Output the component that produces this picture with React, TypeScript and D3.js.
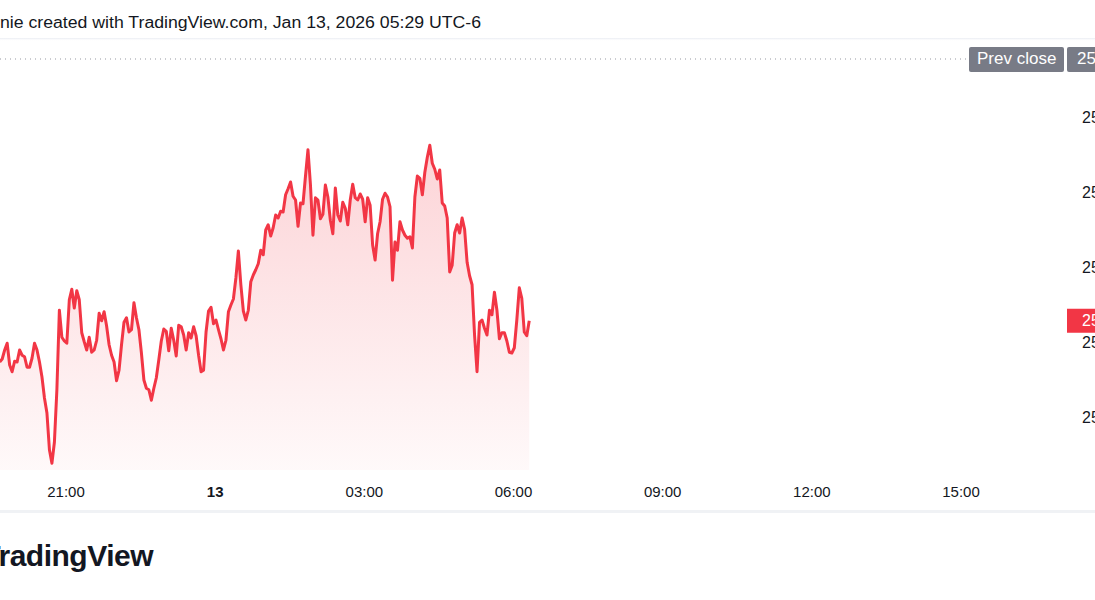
import React from "react";
import * as d3 from "d3";

const W = 1095;
const H = 600;

const headerText = "nie created with TradingView.com, Jan 13, 2026 05:29 UTC-6";
const logoText = "TradingView";

// 3-minute closes starting 2026-01-12 19:40 (chart time)
const sessionStart = "2026-01-12T19:40:00Z";
const barMinutes = 3;

const pricesEvening = [
  25719, 25720, 25723, 25725.25, 25718, 25715.75, 25719.25, 25719, 25723, 25721.25,
  25720.75, 25717.25, 25717.25, 25720.25, 25725.25, 25723, 25719, 25714, 25707, 25702,
  25689.75, 25685.25, 25692.25, 25709.75, 25736.25, 25727.25, 25726, 25725.25, 25739.75, 25743.25,
  25737, 25742.75, 25739.75, 25728.75, 25725.75, 25723, 25727.25,
  25722.25, 25723, 25726.25, 25735.25, 25732.75, 25735.75, 25731, 25724.75, 25721.25, 25719,
  25712.75, 25716.25, 25724.75, 25732.25, 25733.75, 25729, 25729.75, 25738.75, 25733.75, 25729.75,
  25722, 25713, 25710.25, 25709.75, 25706.25, 25710.25, 25713.75, 25719.75, 25726, 25730,
  25729.25, 25722.75, 25730.25, 25726.25, 25721, 25731.25,
];

const pricesOvernight = [
  25730.75, 25728, 25723, 25728.75, 25727, 25730.75, 25727.75, 25721.25, 25715.75, 25716.25,
  25729, 25736, 25737.25, 25731.75, 25733, 25729.75, 25726.75, 25723, 25726.25, 25735.75,
  25738, 25740, 25747, 25756, 25744.75, 25736, 25733, 25736.25, 25745.75, 25748,
  25749.75, 25751.75, 25756.25, 25754.75, 25763, 25764.75,
  25761, 25763.75, 25768, 25767, 25769.25, 25769, 25774.75, 25776.75, 25779, 25774.25,
  25773, 25764.25, 25772, 25771.75, 25781, 25789.75, 25778, 25761.25, 25773.75, 25773,
  25766.75, 25768.25, 25778, 25774, 25766.25, 25761.75, 25777, 25768, 25766, 25772.25,
  25770.25, 25764.75, 25773, 25778.25, 25773.75, 25773,
];

const pricesMorning = [
  25775, 25773.25, 25765.75, 25773.75, 25771.25, 25758, 25753, 25761.75, 25765.75, 25773.25,
  25775.25, 25774, 25770.75, 25746.25, 25759, 25756.25, 25765.75, 25763, 25761.25, 25760.25,
  25760.75, 25757, 25774, 25781, 25780.25, 25774.75, 25782.25, 25787.25, 25791.25, 25785.25,
  25783.25, 25780, 25783, 25772, 25771, 25767,
  25749, 25751.25, 25762, 25764.75, 25762, 25767, 25763.25, 25752.25, 25747.75, 25744.75,
  25728, 25715.75, 25732.25, 25733, 25730.25, 25728, 25736.25, 25734.75, 25742.25, 25736.25,
  25726.75, 25728.75, 25728.75, 25726, 25722.25, 25722, 25723.75, 25733, 25743.75, 25740.25,
  25729, 25727.75, 25732.75,
];

const prevClose = 25820;
const priceTicks = [25800, 25775, 25750, 25725, 25700];
const timeTicks = [
  "2026-01-12T21:00:00Z",
  "2026-01-13T00:00:00Z",
  "2026-01-13T03:00:00Z",
  "2026-01-13T06:00:00Z",
  "2026-01-13T09:00:00Z",
  "2026-01-13T12:00:00Z",
  "2026-01-13T15:00:00Z",
];
const timeTickLabels = ["21:00", "13", "03:00", "06:00", "09:00", "12:00", "15:00"];
const boldTickLabels = ["13"];

const LINE = "#f23645";
const TEXT = "#131722";
const GRAY_LABEL = "#787b86";
const FONT = "'Liberation Sans', Arial, sans-serif";

export default function App() {
  const prices = [...pricesEvening, ...pricesOvernight, ...pricesMorning];
  const start = new Date(sessionStart).getTime();
  const data = prices.map((p, i) => ({ t: new Date(start + i * barMinutes * 60000), p }));

  const x = d3
    .scaleUtc()
    .domain([new Date(timeTicks[0]), new Date(timeTicks[timeTicks.length - 1])])
    .range([66, 961]);
  const y = d3.scaleLinear().domain([25700, 25800]).range([419, 119]);

  const plotBottom = 470;
  const line = d3
    .line<{ t: Date; p: number }>()
    .x((d) => x(d.t))
    .y((d) => y(d.p));
  const area = d3
    .area<{ t: Date; p: number }>()
    .x((d) => x(d.t))
    .y0(plotBottom)
    .y1((d) => y(d.p));

  const last = data[data.length - 1];
  const lastY = y(last.p);
  const prevY = y(prevClose);

  return (
    <div style={{ position: "fixed", left: 0, top: 0, width: W, height: H, overflow: "hidden", background: "#fff" }}>
      <svg width={W} height={H} style={{ display: "block" }} fontFamily={FONT}>
        <defs>
          <linearGradient id="fillGrad" gradientUnits="userSpaceOnUse" x1="0" y1="140" x2="0" y2={plotBottom}>
            <stop offset="0" stopColor={LINE} stopOpacity={0.22} />
            <stop offset="1" stopColor={LINE} stopOpacity={0.03} />
          </linearGradient>
          <linearGradient id="hdrShadow" x1="0" y1="0" x2="0" y2="1">
            <stop offset="0" stopColor="#e9ecf2" stopOpacity={1} />
            <stop offset="1" stopColor="#ffffff" stopOpacity={0} />
          </linearGradient>
        </defs>
        <rect x={0} y={0} width={W} height={H} fill="#ffffff" />

        {/* header */}
        <text x={0} y={28} fontSize={16} fill={TEXT} textLength={481} lengthAdjust="spacingAndGlyphs">
          {headerText}
        </text>
        <rect x={0} y={38} width={W} height={3} fill="url(#hdrShadow)" />

        {/* area + line */}
        <path d={area(data) || ""} fill="url(#fillGrad)" />
        <path d={line(data) || ""} fill="none" stroke={LINE} strokeWidth={3} strokeLinejoin="round" />

        {/* prev close dotted line */}
        <line x1={0} x2={968} y1={prevY} y2={prevY} stroke="#9598a1" strokeWidth={1} strokeDasharray="1 4" />

        {/* price axis labels */}
        {priceTicks.map((v) => (
          <text key={v} x={1082} y={y(v)} fontSize={16} fill={TEXT} dominantBaseline="middle">
            {v.toFixed(2)}
          </text>
        ))}

        {/* prev close label */}
        <rect x={969} y={prevY - 12} width={95} height={25} rx={2} fill={GRAY_LABEL} />
        <text x={977} y={prevY + 1} fontSize={17} fill="#fff" dominantBaseline="middle">
          Prev close
        </text>
        <rect x={1067} y={prevY - 12} width={40} height={25} rx={2} fill={GRAY_LABEL} />
        <text x={1077} y={prevY + 1} fontSize={17} fill="#fff" dominantBaseline="middle">
          {prevClose.toFixed(2)}
        </text>

        {/* last price label */}
        <rect x={1067} y={lastY - 12} width={40} height={24} fill={LINE} />
        <text x={1082} y={lastY + 1} fontSize={16} fill="#fff" dominantBaseline="middle">
          {last.p.toFixed(2)}
        </text>

        {/* time axis */}
        {timeTicks.map((t, i) => (
          <text
            key={t}
            x={x(new Date(t))}
            y={497}
            fontSize={15}
            fill={TEXT}
            textAnchor="middle"
            fontWeight={boldTickLabels.includes(timeTickLabels[i]) ? 700 : 400}
          >
            {timeTickLabels[i]}
          </text>
        ))}
        <rect x={0} y={510} width={W} height={3} fill="#f0f2f5" />

        {/* logo */}
        <text x={153} y={566} fontSize={30} fontWeight={700} fill={TEXT} textAnchor="end" letterSpacing={-0.5}>
          {logoText}
        </text>
      </svg>
    </div>
  );
}
